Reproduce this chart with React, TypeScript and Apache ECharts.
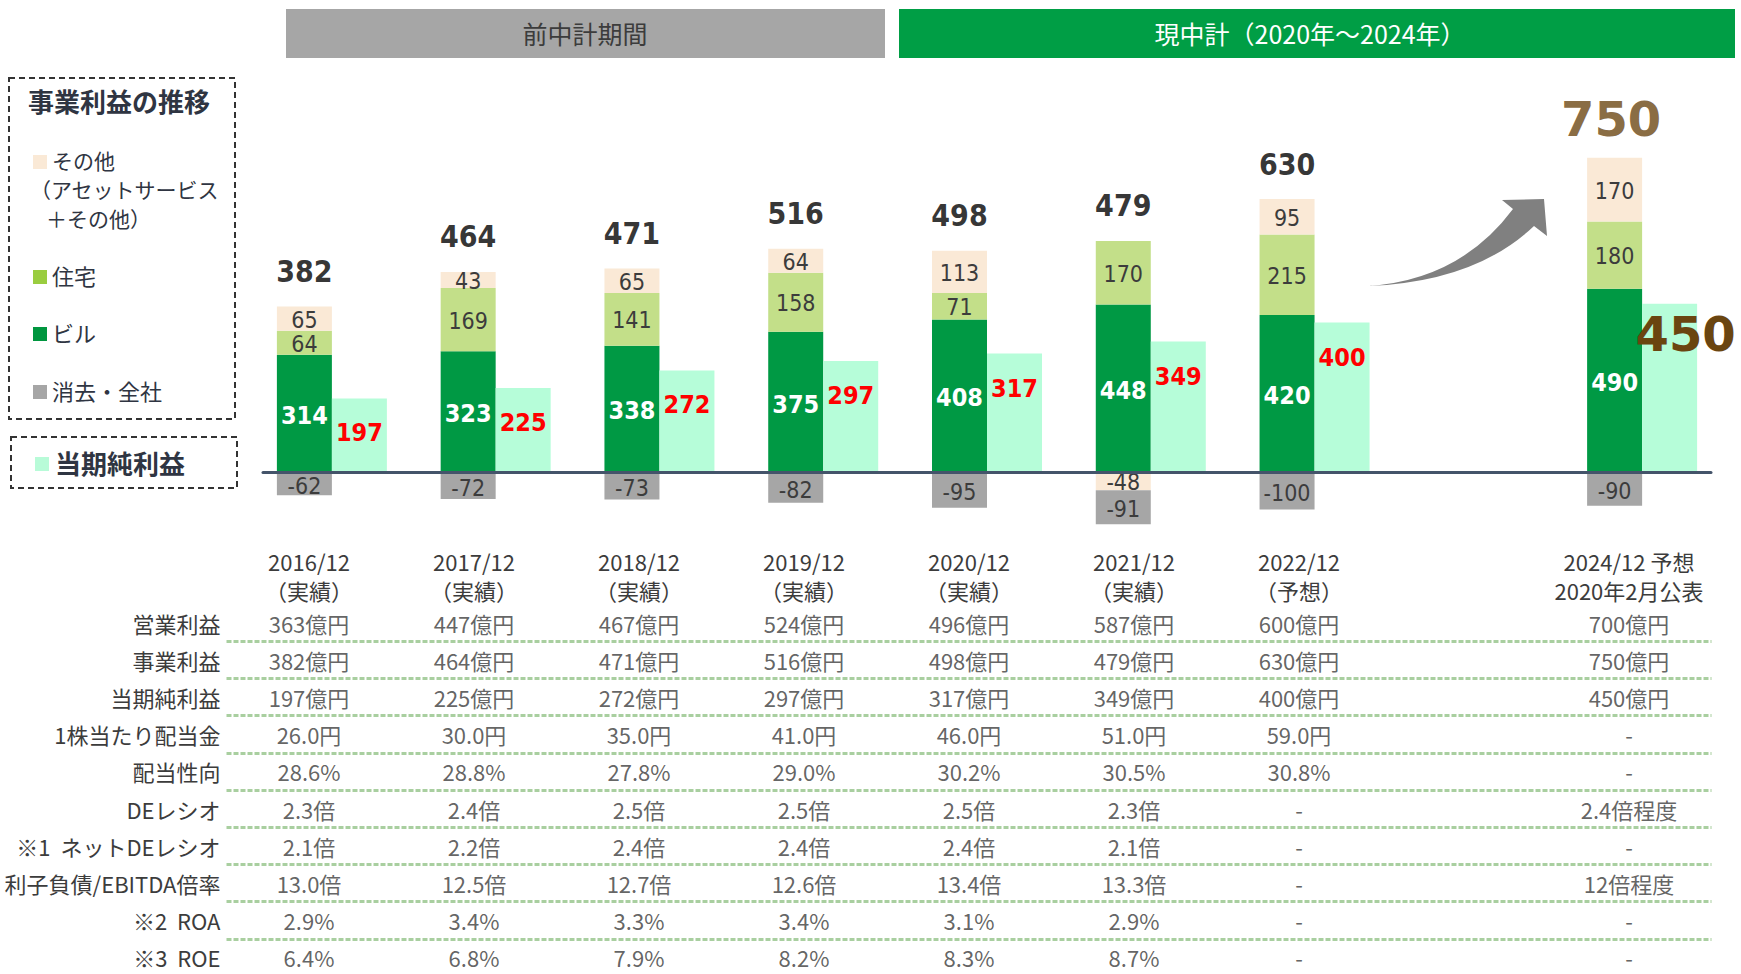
import React, { useEffect, useRef } from 'react';
import * as echarts from 'echarts';

// ---------- data ----------
const columns = ['2016/12', '2017/12', '2018/12', '2019/12', '2020/12', '2021/12', '2022/12', '2023/12', '2024/12'];
const headerYear = ['2016/12', '2017/12', '2018/12', '2019/12', '2020/12', '2021/12', '2022/12', '', '2024/12 予想'];
const headerStatus = ['（実績）', '（実績）', '（実績）', '（実績）', '（実績）', '（実績）', '（予想）', '', '2020年2月公表'];
const building = [314, 323, 338, 375, 408, 448, 420, null, 490];
const housing = [64, 169, 141, 158, 71, 170, 215, null, 180];
const other = [65, 43, 65, 64, 113, -48, 95, null, 170];
const elimination = [-62, -72, -73, -82, -95, -91, -100, null, -90];
const netIncome = [197, 225, 272, 297, 317, 349, 400, null, 450];
const businessTotal = [382, 464, 471, 516, 498, 479, 630, null, 750];

const tableColumns = [0, 1, 2, 3, 4, 5, 6, 8];
const rowLabels = [
  '営業利益', '事業利益', '当期純利益', '1株当たり配当金', '配当性向',
  'DEレシオ', '※1  ネットDEレシオ', '利子負債/EBITDA倍率', '※2  ROA', '※3  ROE',
];
const rowOperating = ['363億円', '447億円', '467億円', '524億円', '496億円', '587億円', '600億円', '700億円'];
const rowBusiness = ['382億円', '464億円', '471億円', '516億円', '498億円', '479億円', '630億円', '750億円'];
const rowNet = ['197億円', '225億円', '272億円', '297億円', '317億円', '349億円', '400億円', '450億円'];
const rowDividend = ['26.0円', '30.0円', '35.0円', '41.0円', '46.0円', '51.0円', '59.0円', '-'];
const rowPayout = ['28.6%', '28.8%', '27.8%', '29.0%', '30.2%', '30.5%', '30.8%', '-'];
const rowDE = ['2.3倍', '2.4倍', '2.5倍', '2.5倍', '2.5倍', '2.3倍', '-', '2.4倍程度'];
const rowNetDE = ['2.1倍', '2.2倍', '2.4倍', '2.4倍', '2.4倍', '2.1倍', '-', '-'];
const rowEbitda = ['13.0倍', '12.5倍', '12.7倍', '12.6倍', '13.4倍', '13.3倍', '-', '12倍程度'];
const rowROA = ['2.9%', '3.4%', '3.3%', '3.4%', '3.1%', '2.9%', '-', '-'];
const rowROE = ['6.4%', '6.8%', '7.9%', '8.2%', '8.3%', '8.7%', '-', '-'];

// ---------- styles ----------
const NUM_FONT = "'DejaVu Sans Condensed', 'DejaVu Sans', sans-serif";
const WIDE_FONT = "'DejaVu Sans', sans-serif";
const CJK_FONT = "'Noto Sans CJK JP', sans-serif";
const C_BUILDING = '#009944';
const C_HOUSING = '#C3DF89';
const C_OTHER = '#FAE9D6';
const C_ELIM = '#A6A6A6';
const C_NET = '#B6FDD9';
const C_BROWN = '#6A4510';
const C_TEXT = '#3C3C3C';
const C_LEGEND = '#2F3542';

const ARROW_D = 'M1368 286 Q1460 280 1513 209 L1502 200 L1544 199 L1547 236 L1534 226 Q1475 282 1368 286 Z';
echarts.graphic.registerShape('growthArrow', echarts.graphic.extendPath(ARROW_D, {}));

const GRID_BARS = { left: 250, right: 17, top: 98, bottom: 427, outerBoundsMode: 'none' };
const TABLE_TOP = 604;

function buildOption() {
  const posTop = building.map((b, i) =>
    b == null ? null : b + Math.max(housing[i] || 0, 0) + Math.max(other[i] || 0, 0));
  const totalData: any[] = [];
  businessTotal.forEach((t, i) => {
    if (t == null) return;
    const item: any = { value: [i, posTop[i]], cellText: String(t) };
    if (i === 8) {
      item.label = { fontSize: 48, color: C_BROWN, fontFamily: WIDE_FONT, offset: [-31, -39] };
    }
    totalData.push(item);
  });
  const netData = netIncome.map((v, i) => {
    if (i === 8) {
      return {
        value: v,
        label: { fontSize: 48, color: C_BROWN, fontFamily: WIDE_FONT, distance: 6, offset: [16, 0] },
      };
    }
    return v;
  });
  const tableRows = [rowOperating, rowBusiness, rowNet, rowDividend, rowPayout, rowDE, rowNetDE, rowEbitda, rowROA, rowROE];
  const cellData: any[] = [];
  tableRows.forEach((row, r) => {
    row.forEach((txt, k) => cellData.push({ value: [tableColumns[k], r], cellText: txt }));
  });

  const segLabel = (color: string, size: number, weight: any = 'normal', offset: number[] = [0, 0]) => ({
    show: true, position: 'inside', color, fontSize: size, fontWeight: weight, fontFamily: NUM_FONT, offset,
    formatter: (p: any) => (p.value == null ? '' : String(p.value)),
  });

  const headerAxis = (data: string[], offset: number) => ({
    type: 'category', gridIndex: 1, data, position: 'top', offset,
    axisLine: { show: false }, axisTick: { show: false }, splitLine: { show: false },
    axisLabel: { interval: 0, margin: 3, fontSize: 22, color: C_TEXT, fontFamily: CJK_FONT },
  });

  return {
    animation: false,
    backgroundColor: '#ffffff',
    grid: [
      GRID_BARS,
      { left: 226.5, right: 29.5, top: TABLE_TOP, height: 372, outerBoundsMode: 'none' },
      { left: 263, right: 30, top: GRID_BARS.top, bottom: GRID_BARS.bottom, outerBoundsMode: 'none' },
    ],
    xAxis: [
      { type: 'category', gridIndex: 0, data: columns, show: false },
      headerAxis(headerStatus, 0),
      headerAxis(headerYear, 29),
      {
        type: 'value', gridIndex: 2, min: 0, max: 1, z: 10,
        axisLine: { show: true, onZero: true, lineStyle: { color: '#44546A', width: 3 } },
        axisTick: { show: false }, axisLabel: { show: false }, splitLine: { show: false },
      },
    ],
    yAxis: [
      { type: 'value', gridIndex: 0, min: -200, max: 1000, show: false },
      {
        type: 'category', gridIndex: 1, data: rowLabels, inverse: true,
        axisLine: { show: false }, axisTick: { show: false },
        axisLabel: { interval: 0, margin: 6, fontSize: 22, color: C_TEXT, fontFamily: CJK_FONT },
        splitLine: {
          show: true, interval: 0, showMinLine: false, showMaxLine: false,
          lineStyle: { color: '#A9CFA0', width: 3, type: [5, 2] },
        },
      },
      { type: 'value', gridIndex: 2, min: -200, max: 1000, show: false },
    ],
    series: [
      {
        name: 'ビル', type: 'bar', stack: 'biz', data: building, barWidth: 55, barGap: '0%',
        itemStyle: { color: C_BUILDING }, label: segLabel('#ffffff', 25, 'bold', [0, 2]),
      },
      {
        name: '住宅', type: 'bar', stack: 'biz', data: housing, barWidth: 55, barGap: '0%',
        itemStyle: { color: C_HOUSING }, label: segLabel(C_TEXT, 23, 'normal', [0, 1]),
      },
      {
        name: 'その他', type: 'bar', stack: 'biz', data: other, barWidth: 55, barGap: '0%',
        itemStyle: { color: C_OTHER }, label: segLabel(C_TEXT, 23, 'normal', [0, 1]),
      },
      {
        name: '消去・全社', type: 'bar', stack: 'biz', data: elimination, barWidth: 55, barGap: '0%',
        itemStyle: { color: C_ELIM }, label: segLabel(C_TEXT, 23, 'normal', [0, 2]),
      },
      {
        name: '当期純利益', type: 'bar', stack: 'net', data: netData, barWidth: 55, barGap: '0%',
        itemStyle: { color: C_NET },
        label: {
          show: true, position: 'insideTop', distance: 22, color: '#FF0000', fontSize: 25,
          fontWeight: 'bold', fontFamily: NUM_FONT,
        },
      },
      {
        name: '事業利益', type: 'scatter', xAxisIndex: 0, yAxisIndex: 0, data: totalData,
        symbolSize: 1, itemStyle: { color: 'rgba(0,0,0,0)' }, z: 5,
        label: {
          show: true, position: 'inside', offset: [-27.5, -35], color: '#000000', fontSize: 30,
          fontWeight: 'bold', fontFamily: NUM_FONT, formatter: (p: any) => p.data.cellText,
        },
      },
      {
        name: 'table', type: 'scatter', xAxisIndex: 1, yAxisIndex: 1, data: cellData,
        symbolSize: 1, itemStyle: { color: 'rgba(0,0,0,0)' }, silent: true,
        label: {
          show: true, position: 'inside', color: C_TEXT, fontSize: 22, fontFamily: CJK_FONT,
          formatter: (p: any) => p.data.cellText,
        },
      },
    ],
    graphic: [
      { type: 'rect', shape: { x: 286, y: 9, width: 599, height: 49 }, style: { fill: '#A6A6A6' } },
      {
        type: 'text', x: 585, y: 33,
        style: { text: '前中計期間', fill: C_TEXT, fontSize: 25, fontFamily: CJK_FONT, align: 'center', verticalAlign: 'middle' },
      },
      { type: 'rect', shape: { x: 899, y: 9, width: 836, height: 49 }, style: { fill: '#009E45' } },
      {
        type: 'text', x: 1310, y: 33,
        style: { text: '現中計（2020年～2024年）', fill: '#ffffff', fontSize: 25, fontFamily: CJK_FONT, align: 'center', verticalAlign: 'middle' },
      },
      // legend box 1
      {
        type: 'rect', shape: { x: 9, y: 78, width: 226, height: 341 },
        style: { fill: 'none', stroke: '#333333', lineWidth: 2, lineDash: [6, 4] },
      },
      {
        type: 'text', x: 28, y: 100,
        style: { text: '事業利益の推移', fill: C_LEGEND, fontSize: 26, fontWeight: 'bold', fontFamily: CJK_FONT, verticalAlign: 'middle' },
      },
      { type: 'rect', shape: { x: 33, y: 155, width: 14, height: 14 }, style: { fill: C_OTHER } },
      { type: 'text', x: 52, y: 160, style: { text: 'その他', fill: C_LEGEND, fontSize: 21, fontFamily: CJK_FONT, verticalAlign: 'middle' } },
      { type: 'text', x: 30, y: 189, style: { text: '（アセットサービス', fill: C_LEGEND, fontSize: 21, fontFamily: CJK_FONT, verticalAlign: 'middle' } },
      { type: 'text', x: 46, y: 218, style: { text: '＋その他）', fill: C_LEGEND, fontSize: 21, fontFamily: CJK_FONT, verticalAlign: 'middle' } },
      { type: 'rect', shape: { x: 33, y: 270, width: 14, height: 14 }, style: { fill: '#9ACD3F' } },
      { type: 'text', x: 52, y: 275, style: { text: '住宅', fill: C_LEGEND, fontSize: 22, fontFamily: CJK_FONT, verticalAlign: 'middle' } },
      { type: 'rect', shape: { x: 33, y: 327, width: 14, height: 14 }, style: { fill: '#00963F' } },
      { type: 'text', x: 52, y: 332, style: { text: 'ビル', fill: C_LEGEND, fontSize: 22, fontFamily: CJK_FONT, verticalAlign: 'middle' } },
      { type: 'rect', shape: { x: 33, y: 385, width: 14, height: 14 }, style: { fill: C_ELIM } },
      { type: 'text', x: 52, y: 390, style: { text: '消去・全社', fill: C_LEGEND, fontSize: 22, fontFamily: CJK_FONT, verticalAlign: 'middle' } },
      // legend box 2
      {
        type: 'rect', shape: { x: 11, y: 437, width: 226, height: 51 },
        style: { fill: 'none', stroke: '#333333', lineWidth: 2, lineDash: [6, 4] },
      },
      { type: 'rect', shape: { x: 35, y: 457, width: 14, height: 14 }, style: { fill: '#B8FBD8' } },
      {
        type: 'text', x: 55, y: 462,
        style: { text: '当期純利益', fill: C_LEGEND, fontSize: 26, fontWeight: 'bold', fontFamily: CJK_FONT, verticalAlign: 'middle' },
      },
      // growth arrow
      { type: 'growthArrow', x: 0, y: 0, style: { fill: '#808080' } },
    ],
  };
}

export default function App() {
  const ref = useRef<HTMLDivElement>(null);
  useEffect(() => {
    document.body.style.margin = '0';
    if (!ref.current) return;
    const chart = echarts.init(ref.current, undefined, { renderer: 'svg' });
    chart.setOption(buildOption() as any);
    return () => {
      chart.dispose();
    };
  }, []);
  return <div ref={ref} style={{ width: 1741, height: 974 }} />;
}
